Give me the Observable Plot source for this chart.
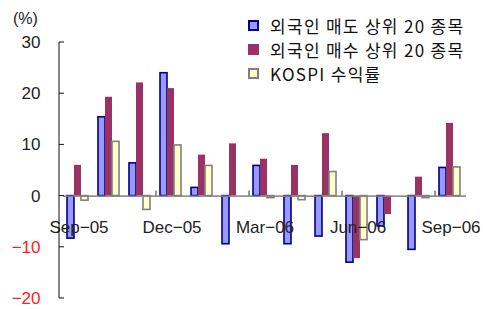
<!DOCTYPE html>
<html><head><meta charset="utf-8">
<script src="https://cdn.jsdelivr.net/npm/d3@7"></script>
<script src="https://cdn.jsdelivr.net/npm/@observablehq/plot@0.6"></script>
<style>
body{margin:0;background:#fff;font-family:Arial,"Liberation Sans","Noto Sans CJK KR",sans-serif;}
#wrap{position:relative;width:483px;height:309px;}
#unit{position:absolute;left:13px;top:10px;font-size:16px;color:#222;}
#legend{position:absolute;left:248px;top:13px;font-size:17px;letter-spacing:1.3px;color:#111;font-family:"Noto Sans CJK KR",sans-serif;}
.row{display:flex;align-items:center;height:24px;}
.sw{width:7px;height:7px;margin-right:11px;box-sizing:content-box;}
</style></head><body>
<div id="wrap"><div id="chart"></div><div id="unit">(%)</div><div id="legend"></div></div>
<script>
const months = ["Sep-05","Oct-05","Nov-05","Dec-05","Jan-06","Feb-06","Mar-06","Apr-06","May-06","Jun-06","Jul-06","Aug-06","Sep-06"];
const seriesNames = ["외국인 매도 상위 20 종목","외국인 매수 상위 20 종목","KOSPI 수익률"];
const sellTop20 = [-8.3, 15.4, 6.4, 24.0, 1.6, -9.4, 5.9, -9.4, -7.9, -13.0, -5.9, -10.5, 5.5];
const buyTop20  = [6.0, 19.3, 22.1, 21.0, 8.0, 10.2, 7.2, 6.0, 12.2, -12.2, -3.6, 3.7, 14.2];
const kospi     = [-0.9, 10.6, -2.7, 9.9, 5.9, 0, -0.4, -0.8, 4.7, -8.6, 0, -0.4, 5.6];
const yTicks = [30, 20, 10, 0, -10, -20];
const xTickLabels = ["Sep-05","Dec-05","Mar-06","Jun-06","Sep-06"];
const colors = ["#9999ff","#993366","#ffffcc"];
const strokes = ["#000080","#993366","#808080"];

const valuesBySeries = [sellTop20, buyTop20, kospi];
const data = [];
months.forEach((m, i) => seriesNames.forEach((s, j) => data.push({month: m, series: s, value: valuesBySeries[j][i]})));

const plot = Plot.plot({
  width: 483, height: 309,
  marginLeft: 59, marginRight: 14, marginTop: 42, marginBottom: 11,
  style: {fontFamily: "Arial, 'Liberation Sans', sans-serif", background: "#fff"},
  fx: {domain: months, padding: 0, axis: null},
  x: {domain: seriesNames, paddingInner: 0, paddingOuter: 0.5, align: 0.38, axis: null},
  y: {domain: [-20, 30], axis: null},
  color: {domain: seriesNames, range: colors},
  marks: [
    Plot.barY(data, {fx: "month", x: "series", y: "value", fill: "series",
      stroke: d => strokes[seriesNames.indexOf(d.series)], strokeWidth: d => d.series === seriesNames[1] ? 0 : 1.6}),
    Plot.ruleY([0], {stroke: "#808080", strokeWidth: 1.5}),
    Plot.text(xTickLabels, {fx: d => d, y: 0, text: d => d.replace("-", "−"), dy: 31, fontSize: 17, fill: "#222"}),
    Plot.axisY({ticks: yTicks.filter(d => d >= 0), tickSize: 0, tickPadding: 23, fontSize: 17, fill: "#222", label: null}),
    Plot.axisY({ticks: yTicks.filter(d => d < 0), tickSize: 0, tickPadding: 23, fontSize: 17, fill: "#ff2020", label: null})
  ]
});
document.getElementById("chart").appendChild(plot);

// axis line, inward ticks, and category-boundary ticks via the plot's own scales
const ys = plot.scale("y"), fxs = plot.scale("fx");
const svg = d3.select(plot);
const x0 = 59;
svg.append("line").attr("x1", x0).attr("x2", x0).attr("y1", ys.apply(30)).attr("y2", ys.apply(-20)).attr("stroke", "#111");
yTicks.forEach(t => svg.append("line").attr("x1", x0).attr("x2", x0 + 5).attr("y1", ys.apply(t)).attr("y2", ys.apply(t)).attr("stroke", "#111"));
months.forEach((m, i) => {
  if (i > 0 && i % 3 === 0) {
    const bx = fxs.apply(m);
    svg.append("line").attr("x1", bx).attr("x2", bx).attr("y1", ys.apply(0)).attr("y2", ys.apply(0) - 5).attr("stroke", "#333");
  }
});

const lg = document.getElementById("legend");
seriesNames.forEach((s, j) => {
  const r = document.createElement("div"); r.className = "row";
  const sw = document.createElement("div"); sw.className = "sw";
  sw.style.background = colors[j]; sw.style.border = "2px solid " + strokes[j];
  if (j === 1) { sw.style.width = "11px"; sw.style.height = "11px"; sw.style.border = "none"; }
  r.appendChild(sw);
  const t = document.createElement("span"); t.textContent = s; r.appendChild(t);
  lg.appendChild(r);
});
</script></body></html>
